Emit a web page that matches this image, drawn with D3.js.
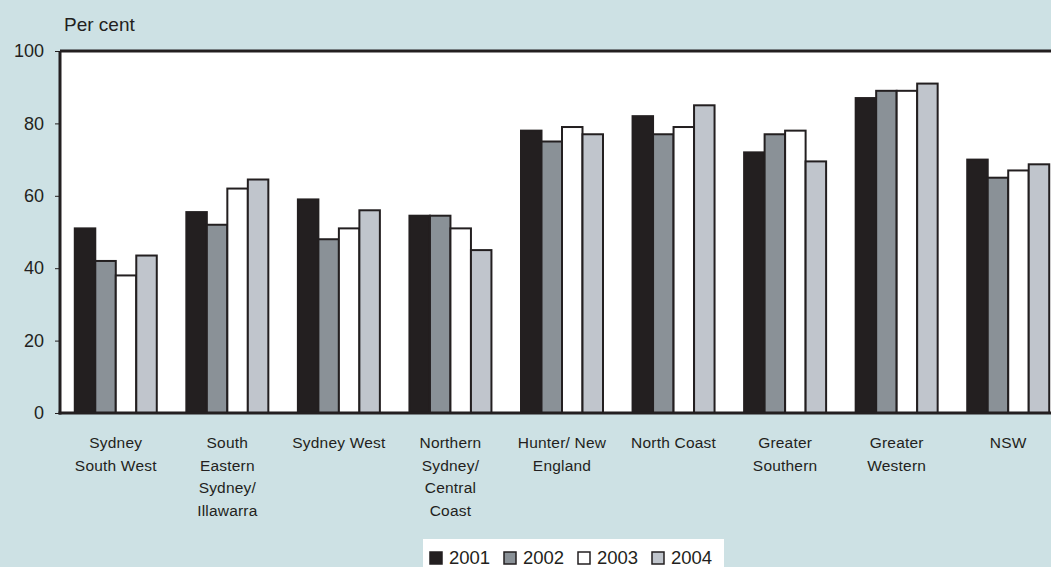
<!DOCTYPE html>
<html><head><meta charset="utf-8">
<script src="https://cdn.jsdelivr.net/npm/d3@7"></script>
<style>
html,body{margin:0;padding:0;background:#cde1e4;}
svg{display:block;font-family:"Liberation Sans",Arial,sans-serif;}
</style></head>
<body>
<svg id="chart" width="1051" height="567"></svg>
<script>
const categories = [
  ["Sydney","South West"],
  ["South","Eastern","Sydney/","Illawarra"],
  ["Sydney West"],
  ["Northern","Sydney/","Central","Coast"],
  ["Hunter/ New","England"],
  ["North Coast"],
  ["Greater","Southern"],
  ["Greater","Western"],
  ["NSW"]
];
const series = ["2001","2002","2003","2004"];
const v2001 = [51, 55.5, 59, 54.5, 78, 82, 72, 87, 70];
const v2002 = [42, 52, 48, 54.5, 75, 77, 77, 89, 65];
const v2003 = [38, 62, 51, 51, 79, 79, 78, 89, 67];
const v2004 = [43.5, 64.5, 56, 45, 77, 85, 69.5, 91, 68.7];
const yTicks = [0, 20, 40, 60, 80, 100];
const colors = ["#231f20", "#8a9197", "#ffffff", "#c0c5cc"];

(function(){
const values = [v2001, v2002, v2003, v2004];
const svg = d3.select("#chart");
const W = 1051, H = 567;
svg.append("rect").attr("width", W).attr("height", H).attr("fill", "#cde1e4");

const pL = 60, pT = 51, pB = 413, pR = 1064;
const x0 = d3.scaleBand().domain(d3.range(categories.length)).range([pL, pR]).paddingInner(0.265).paddingOuter(0.1325);
const x1 = d3.scaleBand().domain(series).range([0, x0.bandwidth()]);
const y = d3.scaleLinear().domain([0, 100]).range([pB, pT]);

svg.append("rect").attr("x", pL).attr("y", pT).attr("width", W - pL).attr("height", pB - pT).attr("fill", "#ffffff");

const g = svg.append("g");
categories.forEach((c, i) => {
  series.forEach((s, j) => {
    const v = values[j][i];
    g.append("rect")
      .attr("x", x0(i) + x1(s))
      .attr("y", y(v))
      .attr("width", x1.bandwidth())
      .attr("height", y(0) - y(v))
      .attr("fill", colors[j])
      .attr("stroke", "#231f20")
      .attr("stroke-width", 2);
  });
});

const yAxis = d3.axisLeft(y).tickValues(yTicks).tickSize(5).tickPadding(11);
const ya = svg.append("g").attr("transform", `translate(${pL},0)`).call(yAxis);
ya.select(".domain").remove();
ya.selectAll(".tick line").attr("stroke", "#231f20").attr("stroke-width", 1);
ya.selectAll(".tick text").attr("font-size", 18).attr("fill", "#231f20").attr("font-family", "Liberation Sans, Arial, sans-serif");

svg.append("line").attr("x1", pL).attr("x2", pL).attr("y1", pT).attr("y2", pB + 1.5).attr("stroke", "#231f20").attr("stroke-width", 3);
svg.append("line").attr("x1", pL).attr("x2", W).attr("y1", pT).attr("y2", pT).attr("stroke", "#231f20").attr("stroke-width", 3);
svg.append("line").attr("x1", pL - 1.5).attr("x2", W).attr("y1", pB).attr("y2", pB).attr("stroke", "#231f20").attr("stroke-width", 3);

svg.append("text").attr("x", 64).attr("y", 31).attr("font-size", 19).attr("fill", "#231f20").text("Per cent");

categories.forEach((c, i) => {
  const cx = x0(i) + x0.bandwidth() / 2;
  const t = svg.append("text").attr("text-anchor", "middle").attr("font-size", 15.5).attr("letter-spacing", 0.2).attr("fill", "#231f20");
  c.forEach((line, k) => {
    t.append("tspan").attr("x", cx).attr("y", 448 + k * 22.7).text(line);
  });
});

const lg = svg.append("g");
lg.append("rect").attr("x", 423).attr("y", 539).attr("width", 301).attr("height", 30).attr("fill", "#ffffff");
const legX = [430, 504, 578, 652];
series.forEach((s, j) => {
  lg.append("rect").attr("x", legX[j]).attr("y", 552).attr("width", 12).attr("height", 12)
    .attr("fill", colors[j]).attr("stroke", "#231f20").attr("stroke-width", 1.5);
  lg.append("text").attr("x", legX[j] + 19).attr("y", 564).attr("font-size", 18.5).attr("fill", "#231f20").text(s);
});
})();
</script>
</body></html>
